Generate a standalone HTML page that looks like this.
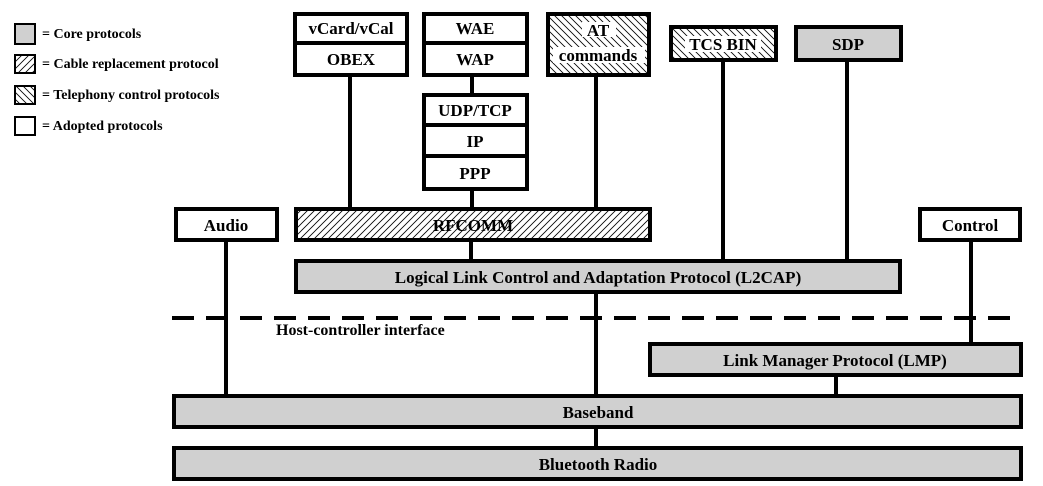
<!DOCTYPE html>
<html><head><style>
html,body{margin:0;padding:0;background:#fff;}
svg{display:block;}
text{font-family:"Liberation Serif",serif;font-weight:bold;fill:#000;}
</style></head><body>
<svg width="1043" height="486" viewBox="0 0 1043 486" xmlns="http://www.w3.org/2000/svg">
<defs>
<pattern id="fw" width="7" height="7" patternUnits="userSpaceOnUse"><rect width="7" height="7" fill="#fff"/><path d="M0,7 L7,0 M-2,2 L2,-2 M5,9 L9,5" stroke="#000" stroke-width="0.8"/></pattern>
<pattern id="bw" width="7" height="7" patternUnits="userSpaceOnUse"><rect width="7" height="7" fill="#fff"/><path d="M0,0 L7,7 M-2,5 L2,9 M5,-2 L9,2" stroke="#000" stroke-width="0.8"/></pattern>
</defs>
<g font-size="14">
<rect x="15" y="24" width="20" height="20" fill="#d0d0d0" stroke="#000" stroke-width="2"/>
<text x="42" y="38">= Core protocols</text>
<rect x="15" y="55" width="20" height="18" fill="url(#fw)" stroke="#000" stroke-width="2"/>
<text x="42" y="68">= Cable replacement protocol</text>
<rect x="15" y="86" width="20" height="18" fill="url(#bw)" stroke="#000" stroke-width="2"/>
<text x="42" y="99">= Telephony control protocols</text>
<rect x="15" y="117" width="20" height="18" fill="#fff" stroke="#000" stroke-width="2"/>
<text x="42" y="130">= Adopted protocols</text>
</g>
<g stroke="#000" stroke-width="4">
<line x1="350" y1="76" x2="350" y2="210"/>
<line x1="472" y1="76" x2="472" y2="96"/>
<line x1="472" y1="190" x2="472" y2="210"/>
<line x1="596" y1="76" x2="596" y2="210"/>
<line x1="723" y1="60" x2="723" y2="262"/>
<line x1="847" y1="60" x2="847" y2="262"/>
<line x1="471" y1="240" x2="471" y2="262"/>
<line x1="226" y1="240" x2="226" y2="398"/>
<line x1="971" y1="240" x2="971" y2="344"/>
<line x1="596" y1="292" x2="596" y2="398"/>
<line x1="836" y1="375" x2="836" y2="398"/>
<line x1="596" y1="427" x2="596" y2="450"/>
<line x1="172" y1="318" x2="1022" y2="318" stroke-dasharray="22 12"/>
</g>
<g stroke="#000" stroke-width="4">
<rect x="295" y="14" width="112" height="61" fill="#fff"/><line x1="295" y1="43" x2="407" y2="43"/>
<rect x="424" y="14" width="103" height="61" fill="#fff"/><line x1="424" y1="43" x2="527" y2="43"/>
<rect x="548" y="14" width="101" height="61" fill="url(#bw)"/>
<rect x="671" y="27" width="105" height="33" fill="url(#bw)"/>
<rect x="796" y="27" width="105" height="33" fill="#d0d0d0"/>
<rect x="424" y="95" width="103" height="94" fill="#fff"/><line x1="424" y1="125" x2="527" y2="125"/><line x1="424" y1="156" x2="527" y2="156"/>
<rect x="176" y="209" width="101" height="31" fill="#fff"/>
<rect x="296" y="209" width="354" height="31" fill="url(#fw)"/>
<rect x="920" y="209" width="100" height="31" fill="#fff"/>
<rect x="296" y="261" width="604" height="31" fill="#d0d0d0"/>
<rect x="650" y="344" width="371" height="31" fill="#d0d0d0"/>
<rect x="174" y="396" width="847" height="31" fill="#d0d0d0"/>
<rect x="174" y="448" width="847" height="31" fill="#d0d0d0"/>
</g>
<g font-size="17" text-anchor="middle">
<text x="351" y="34">vCard/vCal</text>
<text x="351" y="65">OBEX</text>
<text x="475" y="34">WAE</text>
<text x="475" y="65">WAP</text>
<rect x="582" y="22" width="34" height="15" fill="#fff"/>
<text x="598" y="36">AT</text>
<rect x="553" y="47" width="92" height="16" fill="#fff"/>
<text x="598" y="61">commands</text>
<rect x="685" y="36" width="76" height="16" fill="#fff"/>
<text x="723" y="50">TCS BIN</text>
<text x="848" y="50">SDP</text>
<text x="475" y="116">UDP/TCP</text>
<text x="475" y="147">IP</text>
<text x="475" y="179">PPP</text>
<text x="226" y="231">Audio</text>
<text x="473" y="231">RFCOMM</text>
<text x="970" y="231">Control</text>
<text x="598" y="283">Logical Link Control and Adaptation Protocol (L2CAP)</text>
<text x="835" y="366">Link Manager Protocol (LMP)</text>
<text x="598" y="418">Baseband</text>
<text x="598" y="470">Bluetooth Radio</text>
</g>
<text x="276" y="335" font-size="16">Host-controller interface</text>
</svg>
</body></html>
